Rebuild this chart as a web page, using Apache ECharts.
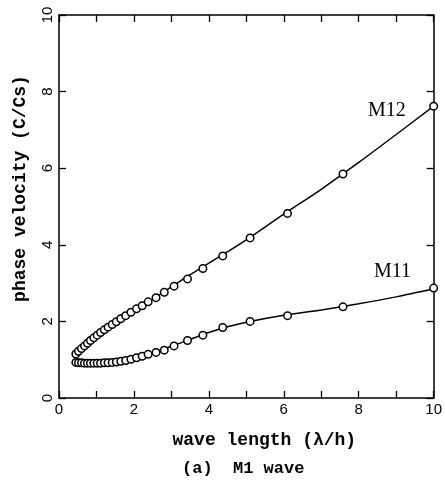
<!DOCTYPE html>
<html>
<head>
<meta charset="utf-8">
<script src="https://cdn.jsdelivr.net/npm/echarts@6/dist/echarts.min.js"></script>
<style>
html,body{margin:0;padding:0;background:#fff;}
#c{width:445px;height:489px;}
</style>
</head>
<body>
<div id="c"></div>
<script>
// ---- data ----
const xTicks = [0, 2, 4, 6, 8, 10];
const yTicks = [0, 2, 4, 6, 8, 10];

// measured points (circles)
const m12PtsX = [0.45,0.52,0.60,0.68,0.76,0.84,0.93,1.02,1.11,1.21,1.31,1.42,1.53,1.65,1.78,1.92,2.07,2.22,2.38,2.59,2.81,3.07,3.43,3.84,4.37,5.10,6.10,7.58,10.0];
const m12PtsY = [1.15,1.22,1.29,1.36,1.43,1.50,1.57,1.64,1.71,1.78,1.85,1.92,1.99,2.07,2.15,2.24,2.33,2.41,2.51,2.62,2.76,2.92,3.11,3.38,3.71,4.18,4.82,5.85,7.62];
const m11PtsX = [0.45,0.52,0.60,0.68,0.76,0.84,0.93,1.02,1.11,1.21,1.31,1.42,1.53,1.65,1.78,1.92,2.07,2.22,2.38,2.59,2.81,3.07,3.43,3.84,4.37,5.10,6.10,7.58,10.0];
const m11PtsY = [0.93,0.92,0.92,0.91,0.91,0.91,0.91,0.91,0.91,0.92,0.92,0.93,0.94,0.96,0.98,1.01,1.05,1.09,1.14,1.19,1.25,1.36,1.50,1.64,1.84,2.00,2.15,2.38,2.87];

// theoretical curves (lines)
const lineX   = [0.45,0.6,0.8,1.0,1.25,1.5,1.75,2.0,2.5,3.0,3.5,4.0,4.5,5.0,6.0,7.0,8.0,9.0,10.0];
const m12Line = [1.12,1.27,1.46,1.63,1.80,1.97,2.13,2.28,2.58,2.90,3.22,3.52,3.82,4.13,4.80,5.45,6.15,6.88,7.62];
const m11Line = [0.93,0.92,0.91,0.91,0.92,0.94,0.98,1.04,1.18,1.35,1.53,1.71,1.86,1.98,2.16,2.30,2.46,2.64,2.85];

const curveLabels = [[8.75, 7.5, 'M12'], [8.9, 3.3, 'M11']];

const xName = 'wave length (λ/h)';
const yName = 'phase velocity (C/Cs)';
const caption = '(a)  M1 wave';

// ---- chart ----
const zip = (xs, ys) => xs.map((x, i) => [x, ys[i]]);
const chart = echarts.init(document.getElementById('c'), null, {renderer: 'canvas'});
const black = '#000';
const mono = '"Liberation Mono", "DejaVu Sans Mono", monospace';
const sans = '"Liberation Sans", Arial, sans-serif';

chart.setOption({
  backgroundColor: '#fff',
  animation: false,
  grid: {left: 59, right: 8, top: 15, bottom: 91},
  xAxis: [{
    type: 'value', min: 0, max: 10, interval: 1,
    position: 'bottom',
    name: xName, nameLocation: 'middle', nameGap: 33,
    nameTextStyle: {fontFamily: mono, fontWeight: 'bold', fontSize: 18, color: black, padding: [0,0,0,36]},
    axisLine: {show: true, onZero: false, lineStyle: {color: black, width: 1.5}},
    axisTick: {show: true, inside: true, length: 7, lineStyle: {color: black, width: 1.3}},
    axisLabel: {show: true, margin: 4, fontFamily: sans, fontSize: 15, color: black,
      showMinLabel: true, showMaxLabel: true,
      formatter: v => xTicks.includes(v) ? String(v) : ''},
    splitLine: {show: false}
  }, {
    type: 'value', min: 0, max: 10, interval: 1, position: 'top',
    axisLine: {show: true, onZero: false, lineStyle: {color: black, width: 1.5}},
    axisTick: {show: true, inside: true, length: 7, lineStyle: {color: black, width: 1.3}},
    axisLabel: {show: false}, splitLine: {show: false}
  }],
  yAxis: [{
    type: 'value', min: 0, max: 10, interval: 2, position: 'left',
    name: yName, nameLocation: 'middle', nameGap: 30,
    nameTextStyle: {fontFamily: mono, fontWeight: 'bold', fontSize: 18, color: black, padding: [0,0,0,36]},
    axisLine: {show: true, onZero: false, lineStyle: {color: black, width: 1.5}},
    axisTick: {show: true, inside: true, length: 7, lineStyle: {color: black, width: 1.3}},
    axisLabel: {show: true, rotate: 90, margin: 4, fontFamily: sans, fontSize: 15, color: black,
      showMinLabel: true, showMaxLabel: true,
      formatter: v => yTicks.includes(v) ? String(v) : ''},
    splitLine: {show: false}
  }, {
    type: 'value', min: 0, max: 10, interval: 2, position: 'right',
    axisLine: {show: true, onZero: false, lineStyle: {color: black, width: 1.5}},
    axisTick: {show: true, inside: true, length: 7, lineStyle: {color: black, width: 1.3}},
    axisLabel: {show: false}, splitLine: {show: false}
  }],
  series: [
    {type: 'line', data: zip(lineX, m12Line), symbol: 'none', smooth: 0.3,
     lineStyle: {color: black, width: 1.5}, z: 2},
    {type: 'line', data: zip(lineX, m11Line), symbol: 'none', smooth: 0.3,
     lineStyle: {color: black, width: 1.5}, z: 2},
    {type: 'scatter', data: zip(m12PtsX, m12PtsY), symbol: 'circle', symbolSize: 7.5,
     itemStyle: {color: '#fff', borderColor: black, borderWidth: 1.5, opacity: 1}, z: 3},
    {type: 'scatter', data: zip(m11PtsX, m11PtsY), symbol: 'circle', symbolSize: 7.5,
     itemStyle: {color: '#fff', borderColor: black, borderWidth: 1.5, opacity: 1}, z: 3},
    {type: 'scatter', data: curveLabels.map(d => ({value: [d[0], d[1]], name: d[2]})),
     symbolSize: 0, silent: true, itemStyle: {opacity: 1},
     label: {show: true, position: 'inside', formatter: p => p.name,
       fontFamily: '"Liberation Serif", "Times New Roman", serif', fontSize: 20, color: black}, z: 4}
  ],
  graphic: [{
    type: 'text', left: 243 - 61, top: 460,
    style: {text: caption, font: 'bold 17px ' + mono, fill: black}
  }]
});
</script>
</body>
</html>
